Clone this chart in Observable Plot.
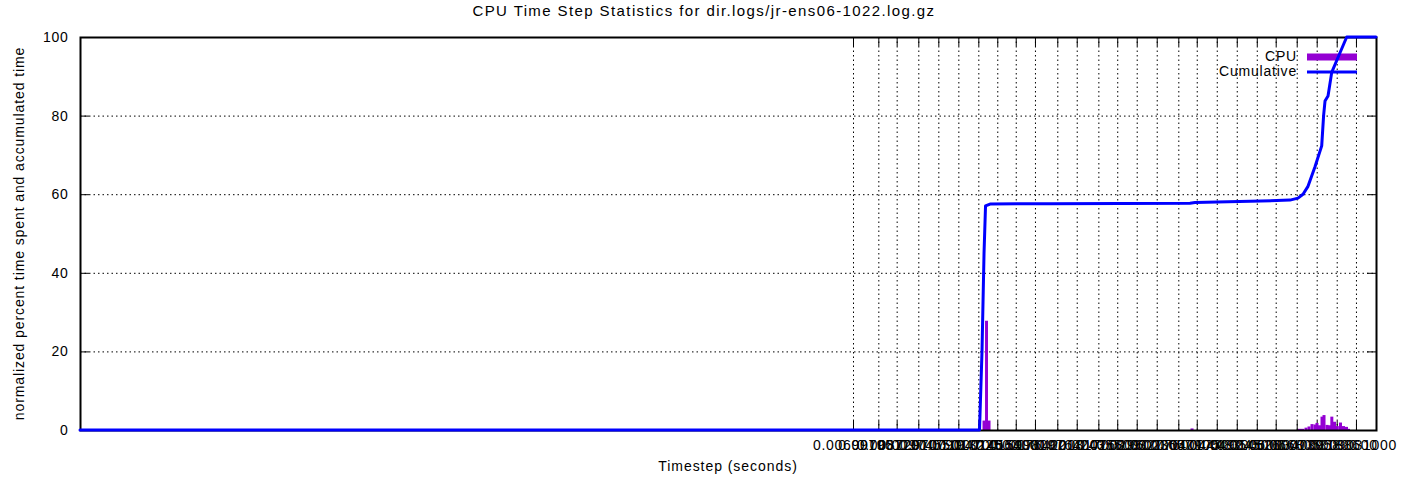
<!DOCTYPE html>
<html><head><meta charset="utf-8">
<script src="https://cdn.jsdelivr.net/npm/d3@7"></script>
<script src="https://cdn.jsdelivr.net/npm/@observablehq/plot@0.6"></script>
<style>
body{margin:0;background:#fff;}
#chart{font-family:"Liberation Sans",Arial,sans-serif;}
</style>
</head><body><div id="chart"></div>
<script>
// x tick positions (timestep, seconds) and their labels
const tickValues = [0.006991, 0.0079517, 0.0087297, 0.0097455, 0.010790, 0.011947, 0.013225, 0.014564,
  0.015998, 0.017642, 0.019764, 0.021817, 0.024355, 0.026809, 0.029602, 0.032776, 0.036579,
  0.040175, 0.044483, 0.049245, 0.054526, 0.060034, 0.066805, 0.073958, 0.081886, 0.090310];
const tickLabels = ["0.00699100", "0.00795170", "0.00872970", "0.00974550", "0.01079000", "0.01194700",
  "0.01322500", "0.01456400", "0.01599800", "0.01764200", "0.01976400", "0.02181700", "0.02435500",
  "0.02680900", "0.02960200", "0.03277600", "0.03657900", "0.04017500", "0.04448300", "0.04924500",
  "0.05452600", "0.06003400", "0.06680500", "0.07395800", "0.08188600", "0.09031000"];
const yTicks = [0, 20, 40, 60, 80, 100];
const yGrid = [20, 40, 60, 80];

// CPU: percent of time spent per timestep bin
const cpuTimestep = [0.013580, 0.013754, 0.013930, 0.039124,
  0.067594, 0.068631, 0.069863, 0.070938, 0.072029, 0.073133, 0.073881, 0.074832, 0.075790,
  0.076566, 0.077747, 0.078740, 0.079669, 0.080767, 0.081928, 0.083270, 0.084550, 0.085857, 0.086731];
const cpuPercent = [2.4, 27.8, 2.4, 0.4,
  0.3, 0.3, 0.6, 0.9, 1.5, 1.4, 1.8, 1.2, 3.4,
  3.8, 1.3, 1.2, 3.4, 2.1, 1.0, 1.9, 1.0, 0.8, 0.3];

// Cumulative percent
const cumTimestep = [0.000137, 0.013306, 0.013475, 0.013615, 0.013719, 0.014036, 0.019041, 0.038827,
  0.039828, 0.052707, 0.064566, 0.067250, 0.068981, 0.070757, 0.073322, 0.075866, 0.076600, 0.077153, 0.078341,
  0.079830, 0.083270, 0.086157, 0.1];
const cumPercent = [0, 0, 20, 45, 57, 57.5, 57.6, 57.7,
  57.9, 58.2, 58.5, 59, 60, 62, 67, 72.3, 80, 83.7, 85,
  91, 96, 100, 100];

const W = 1408, H = 487, mL = 80, mR = 32, mT = 37, mB = 57;
const fw = W - mL - mR, fh = H - mT - mB;
const cpu = cpuTimestep.map((t, i) => ({t, p: cpuPercent[i]}));
const cum = cumTimestep.map((t, i) => ({t, p: cumPercent[i]}));
const ticks = tickValues.map((v, i) => ({v, label: tickLabels[i]}));
const dash = "1.5,3";
const font = "Liberation Sans, Arial, sans-serif";

const svg = Plot.plot({
  width: W, height: H, marginLeft: mL, marginRight: mR, marginTop: mT, marginBottom: mB,
  style: {fontFamily: font, fontSize: "14px", background: "white", color: "black", overflow: "visible"},
  x: {type: "log", domain: [0.000137, 0.1], axis: null},
  y: {domain: [0, 100], axis: null},
  marks: [
    Plot.gridX(tickValues, {stroke: "black", strokeOpacity: 1, strokeDasharray: dash}),
    Plot.gridY(yGrid, {stroke: "black", strokeOpacity: 1, strokeDasharray: dash}),
    Plot.tickX(tickValues, {x: d => d, insetTop: fh - 9, stroke: "black"}),
    Plot.tickX(tickValues, {x: d => d, insetBottom: fh - 9, stroke: "black"}),
    Plot.tickY(yTicks, {y: d => d, insetRight: fw - 9, stroke: "black"}),
    Plot.tickY(yTicks, {y: d => d, insetLeft: fw - 9, stroke: "black"}),
    Plot.text(ticks, {x: "v", text: "label", frameAnchor: "bottom", lineAnchor: "top", dy: 10, fontSize: 14, fill: "black"}),
    Plot.text(yTicks, {y: d => d, text: d => String(d), frameAnchor: "left", textAnchor: "end", dx: -12, fontSize: 14, fill: "black"}),
    Plot.ruleX(cpu, {x: "t", y1: 0, y2: "p", stroke: "#9400d3", strokeWidth: 3}),
    Plot.frame({stroke: "black", strokeWidth: 2})
  ]
});

const s = d3.select(svg);
s.selectAll("text").attr("letter-spacing", "0.7");
s.append("text").attr("x", 704).attr("y", 12).attr("text-anchor", "middle").attr("dominant-baseline", "middle")
  .attr("font-family", font).attr("font-size", 15).attr("letter-spacing", 1.4).attr("fill", "black")
  .text("CPU Time Step Statistics for dir.logs/jr-ens06-1022.log.gz");
s.append("text").attr("x", mL + fw / 2).attr("y", 467).attr("text-anchor", "middle").attr("dominant-baseline", "middle")
  .attr("font-family", font).attr("font-size", 14).attr("letter-spacing", 0.95).attr("fill", "black")
  .text("Timestep (seconds)");
s.append("text").attr("transform", `translate(20,${mT + fh / 2}) rotate(-90)`).attr("text-anchor", "middle").attr("dominant-baseline", "middle")
  .attr("font-family", font).attr("font-size", 14).attr("letter-spacing", 0.9).attr("fill", "black")
  .text("normalized percent time spent and accumulated time");
// legend
const leg = [{name: "CPU", color: "#9400d3", w: 7, y: 57}, {name: "Cumulative", color: "#0000ff", w: 3, y: 72}];
leg.forEach(l => {
  s.append("text").attr("x", 1297).attr("y", l.y).attr("text-anchor", "end").attr("dominant-baseline", "middle")
    .attr("font-family", font).attr("font-size", 14).attr("letter-spacing", 0.8).attr("fill", "black").text(l.name);
  s.append("line").attr("x1", 1307).attr("x2", 1357).attr("y1", l.y).attr("y2", l.y)
    .attr("stroke", l.color).attr("stroke-width", l.w);
});
// cumulative line drawn on top of everything, through the library's scales
const xs = svg.scale("x"), ys = svg.scale("y");
const lineGen = d3.line().x(d => xs.apply(d.t)).y(d => ys.apply(d.p));
s.append("path").attr("d", lineGen(cum)).attr("fill", "none").attr("stroke", "#0000ff")
  .attr("stroke-width", 3).attr("stroke-linejoin", "round").attr("stroke-linecap", "round");
document.getElementById("chart").appendChild(svg);
</script>
</body></html>
